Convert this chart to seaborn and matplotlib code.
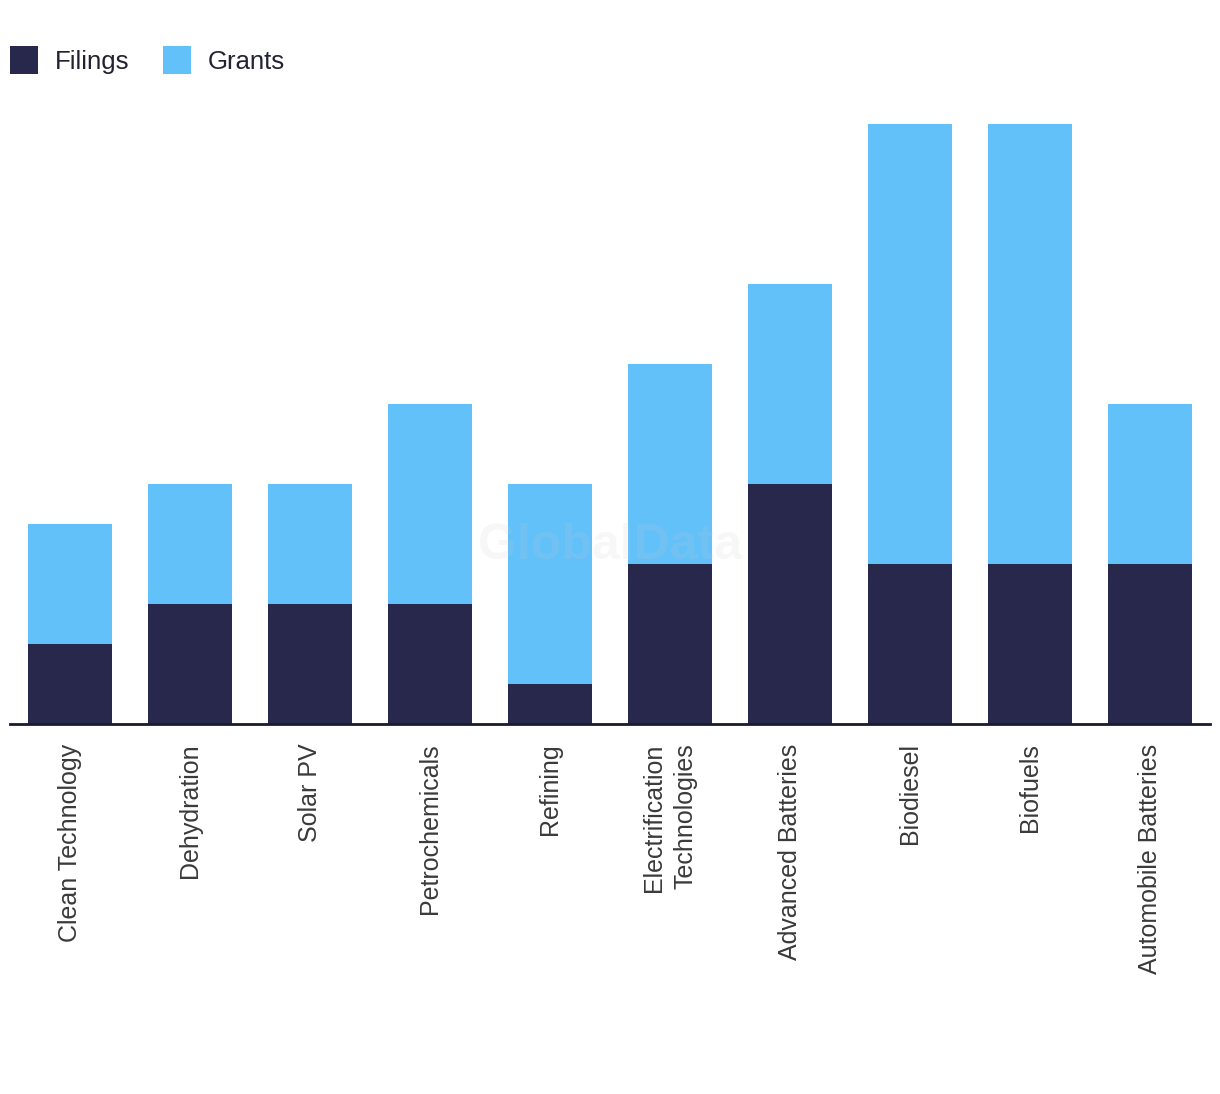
import matplotlib
matplotlib.use("Agg")
import matplotlib.pyplot as plt
import seaborn as sns
import pandas as pd
from matplotlib.patches import Patch

categories = ["Clean Technology", "Dehydration", "Solar PV", "Petrochemicals", "Refining",
              "Electrification\nTechnologies", "Advanced Batteries", "Biodiesel", "Biofuels",
              "Automobile Batteries"]
filings = [2, 3, 3, 3, 1, 4, 6, 4, 4, 4]
grants = [3, 3, 3, 5, 5, 5, 5, 11, 11, 4]

NAVY = "#27284c"
BLUE = "#62c1f9"

sns.set_theme(style="white")
plt.rcParams["font.family"] = ["Liberation Sans", "DejaVu Sans"]

df = pd.DataFrame({"category": categories, "filings": filings, "grants": grants})
df["total"] = df["filings"] + df["grants"]

W, H = 1220, 1094
fig = plt.figure(figsize=(W / 100, H / 100), dpi=100)
ax = fig.add_axes([10 / W, 1 - 724 / H, 1200 / W, (724 - 100) / H])

sns.barplot(data=df, x="category", y="total", color=BLUE, width=0.7, saturation=1,
            ax=ax, linewidth=0)
sns.barplot(data=df, x="category", y="filings", color=NAVY, width=0.7, saturation=1,
            ax=ax, linewidth=0)

ax.set_xlim(-0.5, len(categories) - 0.5)
ax.set_ylim(0, (724 - 100) / 40)
ax.set_xlabel("")
ax.set_ylabel("")
ax.set_yticks([])
for s in ["top", "right", "left"]:
    ax.spines[s].set_visible(False)
ax.spines["bottom"].set_color("#1a1a2e")
ax.spines["bottom"].set_linewidth(2)
ax.tick_params(axis="x", length=0, pad=14, labelsize=18, labelcolor="#3a3a3a")
for lab in ax.get_xticklabels():
    lab.set_rotation(90)
    lab.set_multialignment("right")
    lab.set_va("top")
    lab.set_ha("center")
    lab.set_linespacing(1.4)

# watermark
ax.text(0.5, 0.285, "GlobalData", transform=ax.transAxes, ha="center", va="center",
        fontsize=36, fontweight="bold", color="#cccccc", alpha=0.15, zorder=5)

handles = [Patch(facecolor=NAVY, edgecolor="none", label="Filings"),
           Patch(facecolor=BLUE, edgecolor="none", label="Grants")]
fig.legend(handles=handles, loc="upper left", bbox_to_anchor=(10 / W, 1 - 46 / H),
           ncol=2, frameon=False, fontsize=18.5, handlelength=1.1, handleheight=1.3,
           handletextpad=0.65, columnspacing=1.3, borderpad=0, borderaxespad=0,
           labelcolor="#222233")

fig.savefig("out.png", dpi=100)
